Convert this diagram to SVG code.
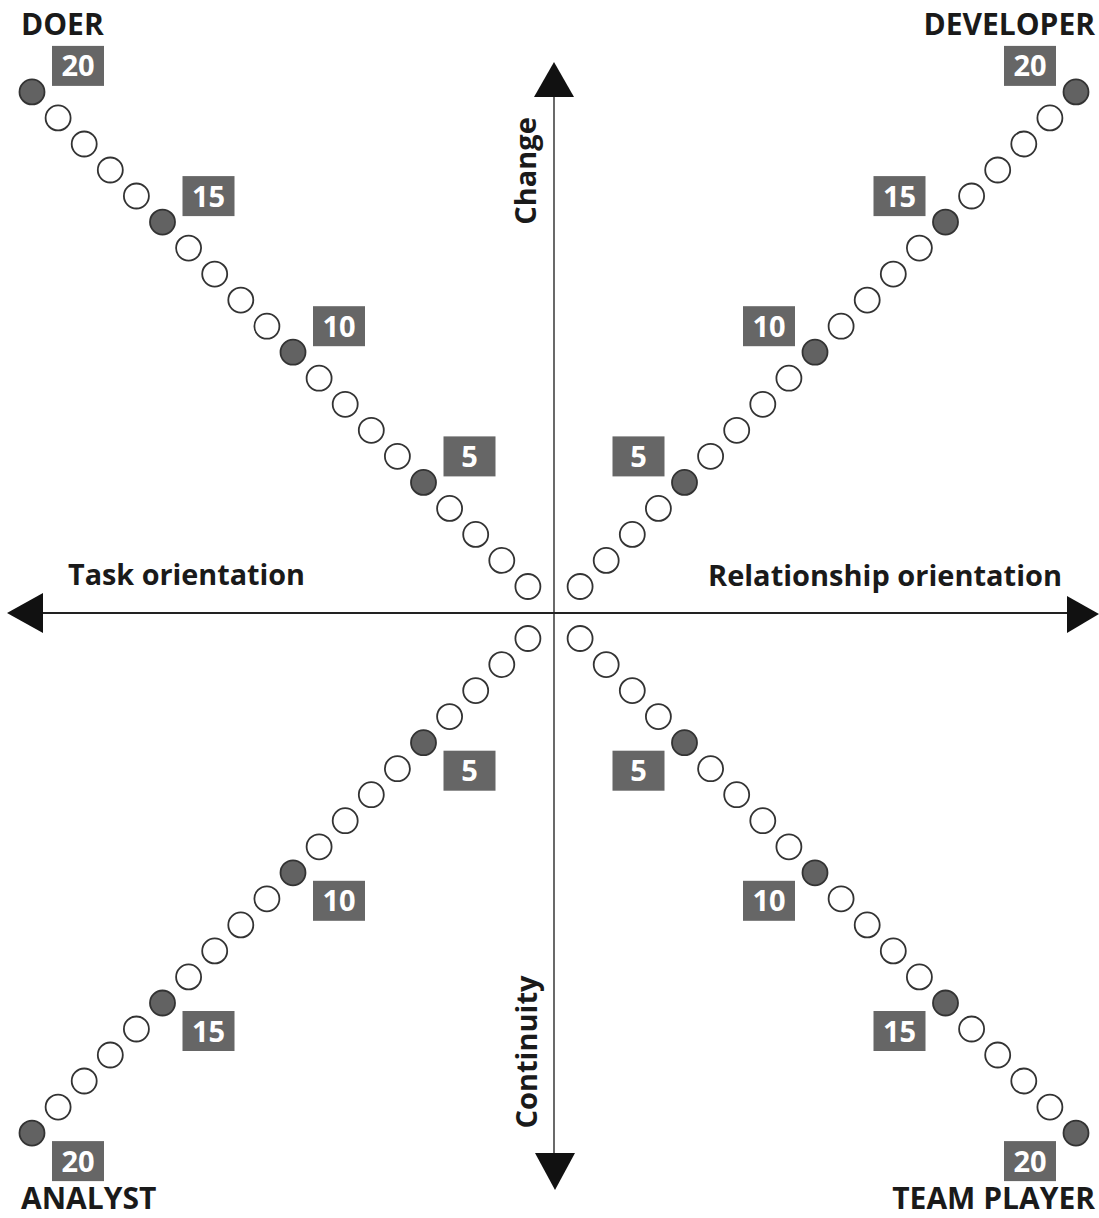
<svg xmlns="http://www.w3.org/2000/svg" width="1099" height="1218" viewBox="0 0 1099 1218">
<style>
.o{fill:#fff;stroke:#333;stroke-width:1.8}
.f{fill:#626262;stroke:#333;stroke-width:1.8}
.b{fill:#666}
.n{font-family:"Open Sans","Liberation Sans",sans-serif;font-weight:bold;font-size:29px;fill:#fff;text-anchor:middle}
.t{font-family:"Open Sans","Liberation Sans",sans-serif;font-weight:bold;font-size:29px;fill:#1a1a1a}
.c{font-family:"Open Sans","Liberation Sans",sans-serif;font-weight:bold;font-size:30px;fill:#1a1a1a}
</style>
<rect width="1099" height="1218" fill="#fff"/>
<g id="axes">
<line x1="554" y1="95" x2="554" y2="1155" stroke="#444" stroke-width="1.6"/>
<line x1="40" y1="613" x2="1070" y2="613" stroke="#222" stroke-width="2"/>
<polygon points="534,97 574,97 554,62" fill="#111"/>
<polygon points="535,1153 575,1153 555,1190" fill="#111"/>
<polygon points="7,613 43,593 43,633" fill="#111"/>
<polygon points="1067,596 1067,633 1099,614" fill="#111"/>
</g>
<g id="axis-labels">
<text class="t" x="68" y="585" textLength="237" lengthAdjust="spacingAndGlyphs">Task orientation</text>
<text class="t" x="708" y="586" textLength="354" lengthAdjust="spacingAndGlyphs">Relationship orientation</text>
<text class="t" transform="translate(536,171) rotate(-90)" text-anchor="middle">Change</text>
<text class="t" transform="translate(537,1052) rotate(-90)" text-anchor="middle">Continuity</text>
</g>
<g id="doer">
<text class="c" x="21" y="35">DOER</text>
<circle class="o" cx="527.9" cy="586.5" r="12.5"/><circle class="o" cx="501.8" cy="560.4" r="12.5"/><circle class="o" cx="475.7" cy="534.4" r="12.5"/><circle class="o" cx="449.6" cy="508.4" r="12.5"/><circle class="f" cx="423.5" cy="482.4" r="12.5"/>
<circle class="o" cx="397.4" cy="456.3" r="12.5"/><circle class="o" cx="371.3" cy="430.3" r="12.5"/><circle class="o" cx="345.2" cy="404.3" r="12.5"/><circle class="o" cx="319.1" cy="378.2" r="12.5"/><circle class="f" cx="293" cy="352.2" r="12.5"/>
<circle class="o" cx="266.9" cy="326.2" r="12.5"/><circle class="o" cx="240.8" cy="300.1" r="12.5"/><circle class="o" cx="214.7" cy="274.1" r="12.5"/><circle class="o" cx="188.6" cy="248.1" r="12.5"/><circle class="f" cx="162.5" cy="222.1" r="12.5"/>
<circle class="o" cx="136.4" cy="196" r="12.5"/><circle class="o" cx="110.3" cy="170" r="12.5"/><circle class="o" cx="84.2" cy="144" r="12.5"/><circle class="o" cx="58.1" cy="117.9" r="12.5"/><circle class="f" cx="32" cy="91.9" r="12.5"/>
<rect class="b" x="443.5" y="436.4" width="52" height="40"/><text class="n" x="469.5" y="466.9">5</text>
<rect class="b" x="313" y="306.2" width="52" height="40"/><text class="n" x="339" y="336.7">10</text>
<rect class="b" x="182.5" y="176.1" width="52" height="40"/><text class="n" x="208.5" y="206.6">15</text>
<rect class="b" x="52" y="45.9" width="52" height="40"/><text class="n" x="78" y="76.4">20</text>
</g>
<g id="developer">
<text class="c" x="1095" y="35" text-anchor="end">DEVELOPER</text>
<circle class="o" cx="580.1" cy="586.5" r="12.5"/><circle class="o" cx="606.2" cy="560.4" r="12.5"/><circle class="o" cx="632.3" cy="534.4" r="12.5"/><circle class="o" cx="658.4" cy="508.4" r="12.5"/><circle class="f" cx="684.5" cy="482.4" r="12.5"/>
<circle class="o" cx="710.6" cy="456.3" r="12.5"/><circle class="o" cx="736.7" cy="430.3" r="12.5"/><circle class="o" cx="762.8" cy="404.3" r="12.5"/><circle class="o" cx="788.9" cy="378.2" r="12.5"/><circle class="f" cx="815" cy="352.2" r="12.5"/>
<circle class="o" cx="841.1" cy="326.2" r="12.5"/><circle class="o" cx="867.2" cy="300.1" r="12.5"/><circle class="o" cx="893.3" cy="274.1" r="12.5"/><circle class="o" cx="919.4" cy="248.1" r="12.5"/><circle class="f" cx="945.5" cy="222.1" r="12.5"/>
<circle class="o" cx="971.6" cy="196" r="12.5"/><circle class="o" cx="997.7" cy="170" r="12.5"/><circle class="o" cx="1023.8" cy="144" r="12.5"/><circle class="o" cx="1049.9" cy="117.9" r="12.5"/><circle class="f" cx="1076" cy="91.9" r="12.5"/>
<rect class="b" x="612.5" y="436.4" width="52" height="40"/><text class="n" x="638.5" y="466.9">5</text>
<rect class="b" x="743" y="306.2" width="52" height="40"/><text class="n" x="769" y="336.7">10</text>
<rect class="b" x="873.5" y="176.1" width="52" height="40"/><text class="n" x="899.5" y="206.6">15</text>
<rect class="b" x="1004" y="45.9" width="52" height="40"/><text class="n" x="1030" y="76.4">20</text>
</g>
<g id="analyst">
<text class="c" x="21" y="1209">ANALYST</text>
<circle class="o" cx="527.9" cy="638.5" r="12.5"/><circle class="o" cx="501.8" cy="664.6" r="12.5"/><circle class="o" cx="475.7" cy="690.6" r="12.5"/><circle class="o" cx="449.6" cy="716.6" r="12.5"/><circle class="f" cx="423.5" cy="742.7" r="12.5"/>
<circle class="o" cx="397.4" cy="768.7" r="12.5"/><circle class="o" cx="371.3" cy="794.7" r="12.5"/><circle class="o" cx="345.2" cy="820.7" r="12.5"/><circle class="o" cx="319.1" cy="846.8" r="12.5"/><circle class="f" cx="293" cy="872.8" r="12.5"/>
<circle class="o" cx="266.9" cy="898.8" r="12.5"/><circle class="o" cx="240.8" cy="924.9" r="12.5"/><circle class="o" cx="214.7" cy="950.9" r="12.5"/><circle class="o" cx="188.6" cy="976.9" r="12.5"/><circle class="f" cx="162.5" cy="1003" r="12.5"/>
<circle class="o" cx="136.4" cy="1029" r="12.5"/><circle class="o" cx="110.3" cy="1055" r="12.5"/><circle class="o" cx="84.2" cy="1081" r="12.5"/><circle class="o" cx="58.1" cy="1107.1" r="12.5"/><circle class="f" cx="32" cy="1133.1" r="12.5"/>
<rect class="b" x="443.5" y="750.7" width="52" height="40"/><text class="n" x="469.5" y="781.2">5</text>
<rect class="b" x="313" y="880.8" width="52" height="40"/><text class="n" x="339" y="911.3">10</text>
<rect class="b" x="182.5" y="1011" width="52" height="40"/><text class="n" x="208.5" y="1041.5">15</text>
<rect class="b" x="52" y="1141.1" width="52" height="40"/><text class="n" x="78" y="1171.6">20</text>
</g>
<g id="team-player">
<text class="c" x="1095" y="1209" text-anchor="end">TEAM PLAYER</text>
<circle class="o" cx="580.1" cy="638.5" r="12.5"/><circle class="o" cx="606.2" cy="664.6" r="12.5"/><circle class="o" cx="632.3" cy="690.6" r="12.5"/><circle class="o" cx="658.4" cy="716.6" r="12.5"/><circle class="f" cx="684.5" cy="742.7" r="12.5"/>
<circle class="o" cx="710.6" cy="768.7" r="12.5"/><circle class="o" cx="736.7" cy="794.7" r="12.5"/><circle class="o" cx="762.8" cy="820.7" r="12.5"/><circle class="o" cx="788.9" cy="846.8" r="12.5"/><circle class="f" cx="815" cy="872.8" r="12.5"/>
<circle class="o" cx="841.1" cy="898.8" r="12.5"/><circle class="o" cx="867.2" cy="924.9" r="12.5"/><circle class="o" cx="893.3" cy="950.9" r="12.5"/><circle class="o" cx="919.4" cy="976.9" r="12.5"/><circle class="f" cx="945.5" cy="1003" r="12.5"/>
<circle class="o" cx="971.6" cy="1029" r="12.5"/><circle class="o" cx="997.7" cy="1055" r="12.5"/><circle class="o" cx="1023.8" cy="1081" r="12.5"/><circle class="o" cx="1049.9" cy="1107.1" r="12.5"/><circle class="f" cx="1076" cy="1133.1" r="12.5"/>
<rect class="b" x="612.5" y="750.7" width="52" height="40"/><text class="n" x="638.5" y="781.2">5</text>
<rect class="b" x="743" y="880.8" width="52" height="40"/><text class="n" x="769" y="911.3">10</text>
<rect class="b" x="873.5" y="1011" width="52" height="40"/><text class="n" x="899.5" y="1041.5">15</text>
<rect class="b" x="1004" y="1141.1" width="52" height="40"/><text class="n" x="1030" y="1171.6">20</text>
</g>
</svg>
